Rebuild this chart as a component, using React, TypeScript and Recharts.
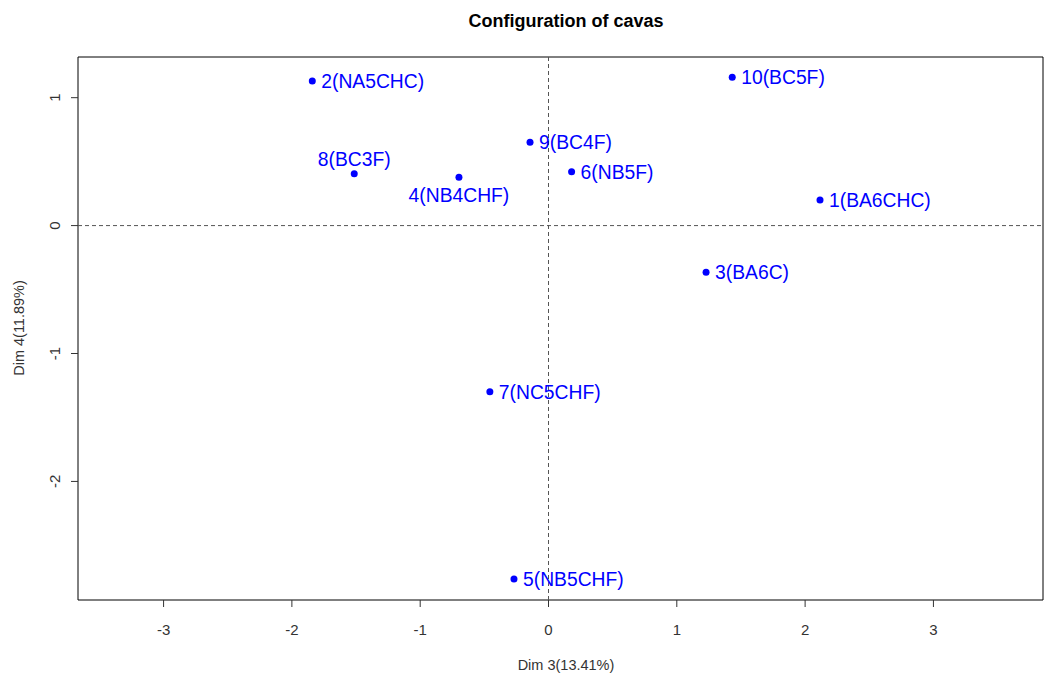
import React from "react";
import { ScatterChart, Scatter, XAxis, YAxis, ReferenceLine, ReferenceArea } from "recharts";

// ── data ──────────────────────────────────────────────────────────────
const labels = [
  "1(BA6CHC)", "2(NA5CHC)", "3(BA6C)", "4(NB4CHF)", "5(NB5CHF)",
  "6(NB5F)", "7(NC5CHF)", "8(BC3F)", "9(BC4F)", "10(BC5F)",
];
const dim3 = [2.116, -1.841, 1.228, -0.698, -0.269, 0.18, -0.457, -1.514, -0.144, 1.432];
const dim4 = [0.2, 1.13, -0.364, 0.378, -2.762, 0.421, -1.299, 0.406, 0.651, 1.159];
const xTicks = [-3, -2, -1, 0, 1, 2, 3];
const yTicks = [-2, -1, 0, 1];

// label placement like R's text(pos=...)
const labelPos: Record<string, "top" | "bottom"> = {
  "8(BC3F)": "top",
  "4(NB4CHF)": "bottom",
};

const X_DOMAIN: [number, number] = [-3.667, 3.854];
const Y_DOMAIN: [number, number] = [-2.927, 1.318];

const points = labels.map((name, i) => ({ name, x: dim3[i], y: dim4[i] }));

const FONT = "Arial, 'Liberation Sans', Helvetica, sans-serif";
const AXIS_TEXT = "#333";

function PointShape(props: any) {
  const { cx, cy, payload } = props;
  const pos = labelPos[payload.name];
  let tx = cx + 9;
  let ty = cy + 6.8;
  let anchor: "start" | "middle" = "start";
  if (pos === "top") {
    tx = cx;
    ty = cy - 8;
    anchor = "middle";
  } else if (pos === "bottom") {
    tx = cx;
    ty = cy + 24.5;
    anchor = "middle";
  }
  return (
    <g>
      <circle cx={cx} cy={cy} r={3.5} fill="#0000ff" />
      <text x={tx} y={ty} textAnchor={anchor} fill="#0000ff" fontSize={19.3} fontFamily={FONT}>
        {payload.name}
      </text>
    </g>
  );
}

function XTick({ x, y, payload }: any) {
  return (
    <text x={x} y={y + 28} textAnchor="middle" fill={AXIS_TEXT} fontSize={15} fontFamily={FONT}>
      {payload.value}
    </text>
  );
}

function YTick({ x, y, payload }: any) {
  return (
    <text
      transform={`translate(${x - 11},${y}) rotate(-90)`}
      textAnchor="middle"
      fill={AXIS_TEXT}
      fontSize={15}
      fontFamily={FONT}
    >
      {payload.value}
    </text>
  );
}

export default function App() {
  return (
    <div style={{ position: "absolute", left: 0, top: 0, width: 1044, height: 675, background: "#fff" }}>
      <div
        style={{
          position: "absolute",
          left: 0,
          top: 10,
          width: 1132,
          textAlign: "center",
          fontFamily: FONT,
          fontWeight: "bold",
          fontSize: 18,
          color: "#000",
          lineHeight: "22px",
        }}
      >
        Configuration of cavas
      </div>
      <ScatterChart width={1044} height={675} margin={{ top: 57, right: 1, bottom: 0, left: 0 }}>
        <XAxis
          type="number"
          dataKey="x"
          domain={X_DOMAIN}
          ticks={xTicks}
          allowDataOverflow
          height={75}
          axisLine={false}
          tickLine={{ stroke: AXIS_TEXT }}
          tickSize={7}
          tickMargin={0}
          tick={<XTick />}
          interval={0}
          label={{
            content: () => (
              <text x={566} y={670} textAnchor="middle" fill={AXIS_TEXT} fontSize={14.5} fontFamily={FONT}>
                Dim 3(13.41%)
              </text>
            ),
          }}
        />
        <YAxis
          type="number"
          dataKey="y"
          domain={Y_DOMAIN}
          ticks={yTicks}
          allowDataOverflow
          width={78}
          axisLine={false}
          tickLine={{ stroke: AXIS_TEXT }}
          tickSize={7}
          tickMargin={0}
          tick={<YTick />}
          interval={0}
          label={{
            content: () => (
              <text
                transform="translate(24,328) rotate(-90)"
                textAnchor="middle"
                fill={AXIS_TEXT}
                fontSize={14.5}
                fontFamily={FONT}
              >
                Dim 4(11.89%)
              </text>
            ),
          }}
        />
        <ReferenceArea
          x1={X_DOMAIN[0]}
          x2={X_DOMAIN[1]}
          y1={Y_DOMAIN[0]}
          y2={Y_DOMAIN[1]}
          fill="none"
          fillOpacity={0}
          stroke="#000"
          strokeWidth={1}
          ifOverflow="visible"
        />
        <ReferenceLine x={0} stroke="#555" strokeDasharray="4 3" />
        <ReferenceLine y={0} stroke="#555" strokeDasharray="4 3" />
        <Scatter data={points} shape={<PointShape />} isAnimationActive={false} />
      </ScatterChart>
    </div>
  );
}
